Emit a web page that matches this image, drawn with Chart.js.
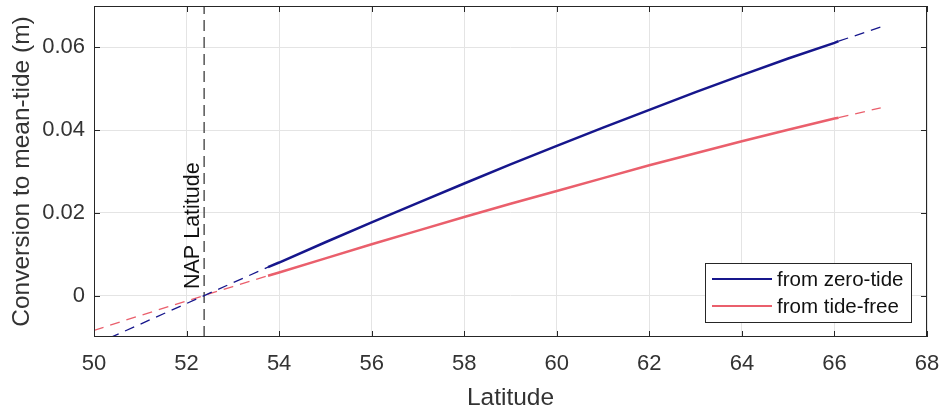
<!DOCTYPE html>
<html>
<head>
<meta charset="utf-8">
<script src="https://cdn.jsdelivr.net/npm/chart.js@4"></script>
<style>
  html, body { margin: 0; padding: 0; background: #fff; }
  #wrap { width: 944px; height: 410px; }
</style>
</head>
<body>
<div id="wrap"><canvas id="grafico" width="944" height="410"></canvas></div>
<script>
// Latitudes (degrees) and conversion values (m)
const latSolid = [53.76, 54, 55, 56, 57, 58, 59, 60, 61, 62, 63, 64, 65, 66, 66.09];
const zeroTideSolid = [0.0069, 0.0080, 0.0129, 0.0177, 0.0224, 0.0271, 0.0317, 0.0362, 0.0406, 0.0449, 0.0492, 0.0533, 0.0573, 0.0611, 0.0615];
const tideFreeSolid = [0.0048, 0.0056, 0.0090, 0.0124, 0.0157, 0.0190, 0.0222, 0.0253, 0.0284, 0.0315, 0.0344, 0.0373, 0.0401, 0.0428, 0.0430];

const latLow = [50, 51, 52, 53, 53.76];
const zeroTideLow = [-0.0119, -0.0069, -0.0019, 0.0031, 0.0069];
const tideFreeLow = [-0.0084, -0.0048, -0.0013, 0.0022, 0.0048];

const latHigh = [66.09, 67];
const zeroTideHigh = [0.0615, 0.0649];
const tideFreeHigh = [0.0430, 0.0454];

const napLatitude = 52.38;

const xTicks = [50, 52, 54, 56, 58, 60, 62, 64, 66, 68];
const yTicks = [0, 0.02, 0.04, 0.06];
const yTickLabels = ['0', '0.02', '0.04', '0.06'];

const seriesNames = ['from zero-tide', 'from tide-free'];

const azul = '#16168c';
const vermelho = '#ea5f6c';
const fonte = '"Liberation Sans", Arial, Helvetica, sans-serif';

function pontos(xs, ys) {
    return xs.map((x, i) => ({ x: x, y: ys[i] }));
}

// zera o espaço extra que o Chart.js reserva para os rótulos das pontas
function semPadding(s) {
    s.paddingTop = 0;
    s.paddingBottom = 0;
    s.paddingLeft = 0;
    s.paddingRight = 0;
}

// moldura, marcas de escala, legenda e texto da latitude NAP
const extras = {
    id: 'extras',
    afterDraw(chart) {
        const c = chart.ctx;
        const a = chart.chartArea;
        const xs = chart.scales.x;
        const ys = chart.scales.y;
        c.save();

        // texto vertical
        const xn = xs.getPixelForValue(napLatitude);
        c.save();
        c.translate(xn - 5, 289);
        c.rotate(-Math.PI / 2);
        c.font = '21.5px ' + fonte;
        c.fillStyle = '#111';
        c.textAlign = 'left';
        c.textBaseline = 'alphabetic';
        c.fillText('NAP Latitude', 0, 0);
        c.restore();

        // moldura
        c.strokeStyle = '#262626';
        c.lineWidth = 1;
        c.strokeRect(a.left + 0.5, a.top + 0.5, a.right - a.left - 1, a.bottom - a.top - 1);

        // marcas para dentro
        c.beginPath();
        xTicks.forEach(v => {
            const p = Math.round(xs.getPixelForValue(v)) + 0.5;
            c.moveTo(p, a.bottom); c.lineTo(p, a.bottom - 6);
            c.moveTo(p, a.top); c.lineTo(p, a.top + 6);
        });
        yTicks.forEach(v => {
            const p = Math.round(ys.getPixelForValue(v)) + 0.5;
            c.moveTo(a.left, p); c.lineTo(a.left + 6, p);
            c.moveTo(a.right, p); c.lineTo(a.right - 6, p);
        });
        c.stroke();

        // legenda
        c.fillStyle = '#fff';
        c.fillRect(705, 263, 206, 59);
        c.strokeStyle = '#262626';
        c.strokeRect(705.5, 263.5, 206, 59);
        const cores = [azul, vermelho];
        c.font = '20.5px ' + fonte;
        c.textAlign = 'left';
        c.textBaseline = 'middle';
        seriesNames.forEach((nome, i) => {
            const y = 279 + i * 27;
            c.strokeStyle = cores[i];
            c.lineWidth = 2;
            c.beginPath();
            c.moveTo(712, y);
            c.lineTo(772, y);
            c.stroke();
            c.fillStyle = '#111';
            c.fillText(nome, 777, y + 1);
        });
        c.restore();
    }
};

const ctx = document.getElementById('grafico').getContext('2d');
const chart = new Chart(ctx, {
    type: 'scatter',
    data: {
        datasets: [
            { label: seriesNames[0], data: pontos(latSolid, zeroTideSolid), borderColor: azul, borderWidth: 2.5 },
            { label: seriesNames[1], data: pontos(latSolid, tideFreeSolid), borderColor: vermelho, borderWidth: 2.5 },
            { data: pontos(latLow, zeroTideLow), borderColor: azul, borderWidth: 1.3, borderDash: [10, 7] },
            { data: pontos(latHigh, zeroTideHigh), borderColor: azul, borderWidth: 1.3, borderDash: [10, 7] },
            { data: pontos(latLow, tideFreeLow), borderColor: vermelho, borderWidth: 1.3, borderDash: [10, 7] },
            { data: pontos(latHigh, tideFreeHigh), borderColor: vermelho, borderWidth: 1.3, borderDash: [10, 7] },
            { data: [{ x: napLatitude, y: -0.01 }, { x: napLatitude, y: 0.07 }], borderColor: '#555', borderWidth: 1.5, borderDash: [11, 6] },
        ].map(d => Object.assign({ showLine: true, pointRadius: 0, fill: false, tension: 0 }, d)),
    },
    plugins: [extras],
    options: {
        responsive: false,
        animation: false,
        layout: { padding: { top: 6, right: 17, left: 0, bottom: 0 } },
        plugins: {
            legend: { display: false },
            tooltip: { enabled: false },
        },
        scales: {
            x: {
                type: 'linear',
                min: 50,
                max: 68,
                afterBuildTicks: s => { s.ticks = xTicks.map(v => ({ value: v })); },
                afterFit: s => { s.height = 73; semPadding(s); },
                grid: { color: '#e4e4e4', drawTicks: false },
                border: { display: false },
                ticks: {
                    padding: 14,
                    color: '#333',
                    font: { family: fonte, size: 22 },
                    callback: v => String(v),
                },
                title: {
                    display: true,
                    text: 'Latitude',
                    color: '#333',
                    font: { family: fonte, size: 24.5, lineHeight: 1 },
                    padding: { top: 0, bottom: 0 },
                },
            },
            y: {
                type: 'linear',
                min: -0.01,
                max: 0.07,
                afterBuildTicks: s => { s.ticks = yTicks.map(v => ({ value: v })); },
                afterFit: s => { s.width = 94; semPadding(s); },
                grid: { color: '#e4e4e4', drawTicks: false },
                border: { display: false },
                ticks: {
                    padding: 9,
                    color: '#333',
                    font: { family: fonte, size: 22 },
                    callback: v => yTickLabels[yTicks.indexOf(v)] ?? String(v),
                },
                title: {
                    display: true,
                    text: 'Conversion to mean-tide (m)',
                    color: '#333',
                    font: { family: fonte, size: 24.5, lineHeight: 1 },
                    padding: { top: 10, bottom: 0 },
                },
            },
        },
    },
});
</script>
</body>
</html>
